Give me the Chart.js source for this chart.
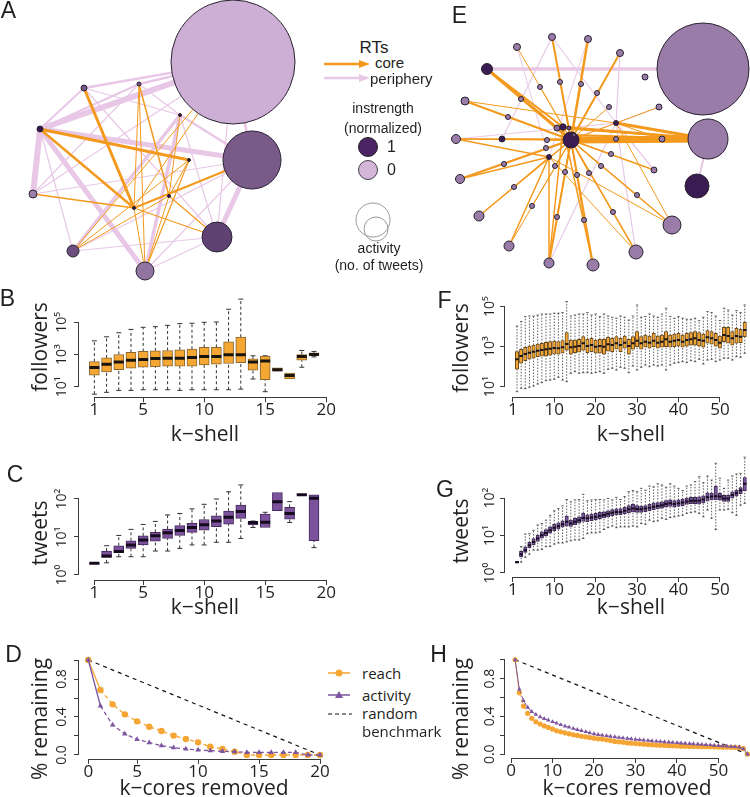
<!DOCTYPE html>
<html><head><meta charset="utf-8">
<script src="https://cdn.jsdelivr.net/npm/chart.js@4.4.1/dist/chart.umd.min.js"></script>
<style>
html,body{margin:0;padding:0;background:#fff;}
body{position:relative;width:750px;height:797px;overflow:hidden;}
canvas{position:absolute;}
.t{position:absolute;white-space:nowrap;line-height:1;color:#231f20;}
svg{position:absolute;left:0;top:0;}
</style></head><body>
<svg width="750" height="797">
  <line x1="324" y1="64" x2="361" y2="64" stroke="#f39a1e" stroke-width="2.5"/>
  <polygon points="359,60 370,64 359,68" fill="#f39a1e"/>
  <line x1="324" y1="78" x2="361" y2="78" stroke="#e8c8e6" stroke-width="2.5"/>
  <polygon points="359,74 370,78 359,82" fill="#e8c8e6"/>
  <circle cx="368" cy="147" r="9.5" fill="#4a2464" stroke="#222" stroke-width="1"/>
  <circle cx="368" cy="170" r="9.5" fill="#d4b6da" stroke="#444" stroke-width="1"/>
  <circle cx="373" cy="220" r="17" fill="none" stroke="#9a9a9a" stroke-width="1"/>
  <circle cx="376" cy="229" r="12" fill="none" stroke="#9a9a9a" stroke-width="1"/>
  <line x1="328" y1="673" x2="350" y2="673" stroke="#f5a533" stroke-width="1.5"/>
  <circle cx="339" cy="673" r="3.5" fill="#f5a533"/>
  <line x1="328" y1="695" x2="350" y2="695" stroke="#7d55a0" stroke-width="1.5"/>
  <polygon points="339,691 343,698 335,698" fill="#7d55a0"/>
  <line x1="328" y1="714" x2="352" y2="714" stroke="#111" stroke-width="1.2" stroke-dasharray="4,3"/>
</svg>
<canvas id="cA"></canvas><canvas id="cE"></canvas>
<canvas id="cB"></canvas><canvas id="cC"></canvas><canvas id="cD"></canvas>
<canvas id="cF"></canvas><canvas id="cG"></canvas><canvas id="cH"></canvas>
<script>
// ================= DATA =================
// Panel B / C : k-shells 1..19 (log10 of values)
const kShellLeft = [1,2,3,4,5,6,7,8,9,10,11,12,13,14,15,16,17,18,19];
const bFollowersLo  = [0.54,0.65,0.77,0.77,0.81,0.81,0.81,0.77,0.81,0.81,0.81,0.81,0.85,1.48,0.69,1.96,1.48,2.21,2.85];
const bFollowersQ1  = [1.71,1.92,2.06,2.15,2.21,2.25,2.27,2.27,2.27,2.35,2.40,2.44,2.50,2.02,1.44,1.96,1.48,2.65,2.92];
const bFollowersMed = [2.19,2.40,2.54,2.65,2.69,2.75,2.77,2.77,2.81,2.88,2.88,2.98,2.98,2.54,2.60,2.06,1.69,2.88,3.00];
const bFollowersQ3  = [2.56,2.79,3.00,3.13,3.19,3.23,3.25,3.29,3.33,3.44,3.44,3.79,4.08,2.73,2.90,2.17,1.85,3.00,3.10];
const bFollowersHi  = [3.85,4.10,4.35,4.56,4.69,4.73,4.81,4.92,4.94,5.00,5.02,5.81,6.44,2.92,2.92,2.17,1.85,3.25,3.19];

const cTweetsLo  = [0.29,0.32,0.48,0.48,0.48,0.63,0.63,0.70,0.79,0.79,0.86,0.86,0.96,1.25,1.25,1.69,1.38,2.10,0.72];
const cTweetsQ1  = [0.29,0.46,0.59,0.70,0.79,0.89,0.96,1.04,1.12,1.18,1.27,1.34,1.49,1.32,1.25,1.69,1.47,2.10,0.90];
const cTweetsMed = [0.31,0.50,0.62,0.79,0.92,1.03,1.11,1.17,1.25,1.32,1.42,1.52,1.67,1.38,1.39,1.93,1.62,2.11,2.02];
const cTweetsQ3  = [0.32,0.63,0.77,0.90,1.03,1.12,1.21,1.30,1.36,1.46,1.56,1.68,1.84,1.40,1.60,2.17,1.78,2.12,2.11];
const cTweetsHi  = [0.32,0.77,1.04,1.20,1.33,1.41,1.58,1.62,1.74,1.86,2.00,2.19,2.37,1.42,1.65,2.17,1.93,2.12,2.11];

// Panel F / G : k-shells 1..56 (log10 of values)
const kShellRight = [1,2,3,4,5,6,7,8,9,10,11,12,13,14,15,16,17,18,19,20,21,22,23,24,25,26,27,28,29,30,31,32,33,34,35,36,37,38,39,40,41,42,43,44,45,46,47,48,49,50,51,52,53,54,55,56];
const fFollowersLo  = [0.75,0.92,0.90,0.97,1.03,1.13,1.20,1.30,1.33,1.37, 1.47,1.33,1.25,1.67,1.75,1.67,1.70,1.70,1.67,1.70, 1.75,1.67,1.87,1.92,1.83,1.97,1.92,1.70,2.03,1.83, 1.97,2.08,2.00,2.08,2.03,2.08,1.83,2.08,2.17,2.20, 2.25,2.20,2.30,2.25,2.37,2.13,2.33,2.37,2.25,2.33, 2.42,2.42,2.33,2.50,2.47,2.67];
const fFollowersQ1  = [1.88,2.17,2.30,2.37,2.42,2.50,2.53,2.53,2.58,2.62, 2.62,2.67,2.83,2.63,2.70,2.72,2.83,2.70,2.75,2.67, 2.67,2.63,2.78,2.75,2.87,2.75,2.92,2.63,2.87,3.00, 2.87,2.97,2.92,3.00,2.92,2.97,3.00,2.97,3.00,3.03, 2.97,3.03,3.08,3.08,3.03,2.97,3.17,3.13,3.03,2.92, 3.25,3.17,3.08,3.17,3.20,3.50];
const fFollowersMed = [2.37,2.53,2.63,2.70,2.75,2.80,2.83,2.87,2.90,2.93, 2.92,2.97,3.13,2.97,3.00,3.03,3.17,3.03,3.08,3.00, 3.03,3.00,3.12,3.08,3.17,3.08,3.20,3.03,3.17,3.30, 3.17,3.25,3.20,3.30,3.20,3.25,3.37,3.25,3.30,3.33, 3.25,3.33,3.37,3.42,3.33,3.30,3.47,3.42,3.33,3.20, 3.58,3.53,3.42,3.53,3.50,3.83];
const fFollowersQ3  = [2.75,2.87,2.97,3.03,3.08,3.13,3.17,3.22,3.25,3.28, 3.25,3.30,3.70,3.33,3.33,3.37,3.50,3.37,3.42,3.33, 3.37,3.37,3.47,3.42,3.50,3.42,3.53,3.37,3.50,3.75, 3.50,3.58,3.53,3.67,3.53,3.58,3.75,3.58,3.63,3.67, 3.58,3.67,3.70,3.75,3.70,3.63,3.80,3.75,3.67,3.53, 3.97,3.97,3.75,3.92,3.87,4.22];
const fFollowersHi  = [4.03,4.25,4.50,4.53,4.53,4.58,4.63,4.63,4.63,4.67, 4.67,4.70,5.25,4.53,4.58,4.63,4.63,4.70,4.58,4.63, 4.50,4.63,4.53,4.47,4.42,4.53,4.47,4.33,4.53,5.08, 4.47,4.50,4.63,4.53,4.47,4.63,4.92,4.50,4.42,4.50, 4.42,4.37,4.37,4.42,4.30,4.47,4.75,4.70,4.53,4.30, 4.92,4.83,4.58,4.80,4.70,5.08];

const gTweetsLo  = [0.27,0.29,0.42,0.50,0.61,0.61,0.63,0.70,0.71,0.77, 0.80,0.80,0.83,0.86,0.88,0.88,0.92,1.05,1.07,1.07, 1.09,1.16,1.21,1.25,1.21,1.23,1.23,1.23,1.25,1.23, 1.32,1.30,1.41,1.37,1.39,1.46,1.43,1.48,1.50,1.52, 1.54,1.59,1.61,1.63,1.59,1.50,1.68,1.46,1.16,1.68, 1.68,1.70,1.61,1.54,1.81,1.86];
const gTweetsQ1  = [0.27,0.43,0.55,0.67,0.75,0.84,0.93,0.99,1.06,1.13, 1.17,1.22,1.25,1.24,1.29,1.33,1.38,1.37,1.40,1.42, 1.45,1.47,1.50,1.53,1.55,1.55,1.58,1.61,1.63,1.62, 1.62,1.64,1.66,1.69,1.71,1.73,1.76,1.78,1.76,1.78, 1.80,1.83,1.85,1.85,1.84,1.87,1.92,1.95,1.95,1.95, 1.91,1.91,2.00,2.05,2.12,2.20];
const gTweetsMed = [0.29,0.50,0.61,0.74,0.83,0.92,1.01,1.07,1.14,1.21, 1.25,1.30,1.37,1.32,1.37,1.41,1.47,1.46,1.48,1.50, 1.53,1.55,1.58,1.61,1.63,1.63,1.66,1.70,1.72,1.71, 1.70,1.72,1.74,1.77,1.79,1.81,1.84,1.86,1.84,1.86, 1.88,1.91,1.93,1.93,1.93,1.96,2.02,2.04,2.05,2.04, 1.99,1.99,2.08,2.13,2.20,2.38];
const gTweetsQ3  = [0.31,0.58,0.70,0.82,0.92,1.01,1.10,1.16,1.23,1.30, 1.34,1.39,1.52,1.41,1.46,1.50,1.60,1.55,1.57,1.59, 1.62,1.63,1.66,1.69,1.71,1.72,1.75,1.80,1.83,1.80, 1.78,1.80,1.83,1.87,1.88,1.90,1.93,1.95,1.93,1.95, 1.97,2.00,2.02,2.02,2.03,2.06,2.14,2.13,2.32,2.13, 2.07,2.08,2.17,2.21,2.28,2.55];
const gTweetsHi  = [0.31,0.71,1.04,1.05,1.14,1.28,1.32,1.41,1.54,1.66, 1.72,1.79,1.96,1.90,1.95,1.96,2.10,1.93,1.95,1.96, 1.96,1.95,1.99,1.95,2.02,1.96,2.04,2.17,2.20,2.17, 2.26,2.21,2.32,2.30,2.38,2.35,2.29,2.38,2.32,2.26, 2.20,2.32,2.35,2.44,2.57,2.41,2.59,2.48,2.93,2.53, 2.26,2.48,2.59,2.64,2.66,3.09];

// Panel D : cores removed (plotted at 1..20, first tick labelled 0)
const dCoresRemoved = [1,2,3,4,5,6,7,8,9,10,11,12,13,14,15,16,17,18,19,20];
const dReach    = [1.0,0.684,0.533,0.428,0.354,0.298,0.253,0.204,0.168,0.133,0.088,0.063,0.035,0.0,0.0,0.0,0.0,0.0,0.0,0.0];
const dActivity = [1.0,0.516,0.316,0.221,0.165,0.130,0.098,0.077,0.063,0.053,0.046,0.039,0.035,0.028,0.028,0.028,0.028,0.028,0.0,0.0];
const dBenchmarkX = [1,20], dBenchmarkY = [1.0,0.0];

// Panel H : cores removed 1..57
const hCoresRemoved = [1,2,3,4,5,6,7,8,9,10,11,12,13,14,15,16,17,18,19,20,21,22,23,24,25,26,27,28,29,30,31,32,33,34,35,36,37,38,39,40,41,42,43,44,45,46,47,48,49,50,51,52,53,54,55,56,57];
const hReach    = [1.0,0.652,0.510,0.433,0.380,0.344,0.320,0.300,0.284,0.266, 0.248,0.238,0.227,0.216,0.206,0.199,0.190,0.184,0.177,0.170, 0.163,0.160,0.152,0.145,0.135,0.131,0.128,0.120,0.117,0.113, 0.110,0.106,0.103,0.100,0.097,0.095,0.093,0.091,0.089,0.087, 0.085,0.084,0.083,0.082,0.081,0.080,0.079,0.078,0.077,0.076, 0.075,0.074,0.073,0.072,0.070,0.060,0.0];
const hActivity = [1.0,0.688,0.567,0.496,0.450,0.420,0.395,0.376,0.360,0.344, 0.328,0.312,0.298,0.285,0.272,0.260,0.249,0.238,0.226,0.215, 0.208,0.201,0.195,0.189,0.183,0.177,0.172,0.167,0.162,0.157, 0.153,0.149,0.145,0.141,0.137,0.134,0.131,0.128,0.124,0.121, 0.118,0.115,0.112,0.109,0.106,0.103,0.100,0.097,0.094,0.091, 0.088,0.085,0.082,0.079,0.075,0.055,0.0];
const hBenchmarkX = [1,57], hBenchmarkY = [1.0,0.0];

// Tick values
const leftKTicks = [1,5,10,15,20];
const rightKTicks = [0,10,20,30,40,50];
const followersTicks = [10,1000,100000];
const tweetsTicks = [1,10,100];
const remainingTicks = [0,0.2,0.4,0.6,0.8,1.0];

// Network A (layout coords inside panel, activity = node radius, instrength 0..1)
const aLayoutX = [233,252,217,145,73,33,40,84,139,180,189,169,134];
const aLayoutY = [62,160,237,271,251,194,129,88,84,115,160,196,208];
const aActivity = [62,29,15,9,6,4,3,3,2,1.5,1.5,1.5,1.5];
const aInstrength = [0.05,0.55,0.70,0.40,0.62,0.33,0.95,0.58,0.58,1,1,1,1];
const aCoreEdges = [[7,12,3],[6,10,3],[6,12,2.5],[8,11,1.5],[8,12,1],[5,12,1.5],[12,2,1.2],[12,1,2],[11,2,1.2],[10,3,1.2],[10,4,1],[0,4,1],[12,3,1],[11,4,1],[9,11,1],[10,11,1],[11,3,1],[0,12,1],[8,3,1]];
const aPeripheryEdges = [[6,0,6],[6,1,5],[6,5,6],[6,3,5],[7,0,2.5],[8,0,2.5],[9,3,3.5],[9,4,3.5],[1,2,5],[0,1,2.5],[6,7,2],[6,8,2],[3,2,1.2],[5,8,1.2],[4,6,1.2],[5,1,1.2],[7,2,1.2],[3,1,1.2],[4,2,1.2],[7,9,1.2],[8,9,1.2],[9,1,2.5],[0,2,1.2],[5,0,1.2],[4,1,1.2],[9,2,1.2]];

// Network E
const eLayoutX = [273,278,267,141,57,122,158,190,87,35,26,30,49,79,119,163,206,242,229,215,224,232,186,72,119,133,110,130,151,167,179,91,78,127,117,116,74,125,135,147,159,171,181,186,207,183,154,127,102,84,139,144];
const eLayoutY = [69,139,186,140,69,37,39,53,47,101,139,179,216,246,263,265,252,225,107,77,170,139,123,139,157,127,87,82,84,93,107,99,117,128,140,148,164,166,172,175,173,166,154,139,195,212,220,217,206,187,128,135];
const eActivity = [46,20,12,8,5.5,3.5,3.5,3.5,3.5,4,4.5,4.5,5,5,5,6,7,9,3,3,3,3,2.5,3,2.5,3.2,2.5,2.5,2.5,2.5,2.5,2.5,2.5,3,2.5,2.5,2.5,2.5,2.5,2.5,2.5,2.5,2.5,2.5,2.5,2.5,2.5,2.5,2.5,2.5,2,2];
const eInstrength = [0.35,0.35,0.92,0.92,0.92,0.35,0.35,0.35,0.35,0.35,0.35,0.35,0.35,0.35,0.35,0.35,0.35,0.35,0.35,0.35,0.35,0.35,0.92,0.92,0.92,0.92,0.35,0.35,0.35,0.35,0.35,0.35,0.35,0.45,0.35,0.35,0.35,0.35,0.35,0.35,0.35,0.35,0.35,0.35,0.35,0.35,0.35,0.35,0.35,0.35,0.6,0.6];
const eCoreEdges = [[3,5,2],[3,6,2.5],[3,7,2],[3,8,1],[3,9,2],[3,10,1.5],[3,11,2],[3,12,1.5],[3,13,1],[3,14,2],[3,15,2],[3,16,1.5],[3,17,1.5],[3,18,1],[3,20,1.5],[3,21,1.5],[3,4,3],[3,23,1],[3,1,7],[25,1,2.5],[50,1,2],[51,1,2],[22,1,3],[33,1,1.5],[43,1,1.5],
  [3,26,1],[3,27,1],[3,28,1],[3,29,1],[3,30,1],[3,31,1],[3,32,1],[3,34,1],[3,35,1],[3,36,1],[3,37,1],[3,38,1],[3,39,1],[3,40,1],[3,41,1],[3,42,1],[3,44,1],[3,45,1],[3,46,1],[3,47,1],[3,48,1],[3,49,1],
  [24,10,1.5],[24,11,1.5],[24,13,1.5],[24,14,1.5],[24,12,1],[23,1,1],[10,1,1],[16,24,1],[17,24,1],[9,22,1],[22,17,1],[22,21,1],[25,15,1.5],[25,14,1.5],[4,25,2],[3,33,1]];
const ePeripheryEdges = [[4,0,3.5],[22,7,1.2],[22,5,1.2],[22,11,1.2],[22,14,1.2],[22,20,1.2],[1,2,2],[5,23,1.2],[22,16,1.2],[22,10,1.2],[18,22,1.2],[8,35,1],[6,24,1]];

// ================= HELPERS =================
Chart.defaults.font.family = "'Open Sans', sans-serif";
Chart.defaults.color = '#231f20';
const CORE = '#f39a1e', PERIPH = '#e8c8e6';
const SUP = {'-1':'⁻¹','0':'⁰','1':'¹','2':'²','3':'³','4':'⁴','5':'⁵','6':'⁶'};
const pow10 = v => Math.pow(10, v);

function geom(id, box, area) {
  const c = document.getElementById(id);
  c.width = box[2]; c.height = box[3];
  c.style.left = box[0] + 'px'; c.style.top = box[1] + 'px';
  return { yW: area[0] - box[0], xH: box[1] + box[3] - area[3],
    pad: { top: area[1] - box[1], right: box[0] + box[2] - area[2], left: 0, bottom: 0 } };
}

const rAxisLines = {
  id: 'rAxisLines',
  afterDraw(chart) {
    const ctx = chart.ctx; ctx.save(); ctx.strokeStyle = '#3a3a3a'; ctx.lineWidth = 1;
    ['x', 'y'].forEach(id => {
      const s = chart.scales[id]; const t = s.ticks; if (!t.length) return;
      const a = s.getPixelForValue(t[0].value), b = s.getPixelForValue(t[t.length - 1].value);
      ctx.beginPath();
      if (id === 'x') { const y = Math.round(s.top) + 0.5; ctx.moveTo(a, y); ctx.lineTo(b, y); }
      else { const x = Math.round(s.right) - 0.5; ctx.moveTo(x, a); ctx.lineTo(x, b); }
      ctx.stroke();
    });
    ctx.restore();
  }
};

function xAxis(g, min, max, ticks, fmt, pad) {
  return { type: 'linear', position: 'bottom', min, max, bounds: 'data', offset: false,
    afterBuildTicks: s => { s.ticks = ticks.map(v => ({ value: v })); },
    afterFit: s => { s.height = g.xH; s.paddingLeft = 0; s.paddingRight = 0; },
    grid: { offset: false, drawOnChartArea: false, drawTicks: true, tickLength: 5, color: '#3a3a3a', lineWidth: 1 },
    border: { display: false },
    ticks: { autoSkip: false, minRotation: 0, maxRotation: 0, padding: pad, color: '#231f20', font: { size: 17 }, callback: fmt } };
}
function yAxis(g, type, min, max, ticks, fmt, pad) {
  return { type, position: 'left', min, max, bounds: 'data', beginAtZero: false,
    afterBuildTicks: s => { s.ticks = ticks.map(v => ({ value: v })); },
    afterFit: s => { s.width = g.yW; s.paddingTop = 0; s.paddingBottom = 0; },
    grid: { drawOnChartArea: false, drawTicks: true, tickLength: 5, color: '#3a3a3a', lineWidth: 1 },
    border: { display: false },
    ticks: { autoSkip: false, minRotation: 90, maxRotation: 90, crossAlign: 'center', padding: pad, color: '#231f20', font: { size: 14 }, callback: fmt } };
}
const logFmt = v => '10' + SUP[String(Math.round(Math.log10(v)))];

function boxplotDatasets(ks, lo, q1, med, q3, hi, st) {
  const whisk = [], caps = [];
  ks.forEach((k, i) => {
    if (hi[i] > q3[i] + 0.005) { whisk.push({ x: k, y: pow10(q3[i]) }, { x: k, y: pow10(hi[i]) }, { x: k, y: null }); caps.push({ x: k, y: pow10(hi[i]) }); }
    if (lo[i] < q1[i] - 0.005) { whisk.push({ x: k, y: pow10(lo[i]) }, { x: k, y: pow10(q1[i]) }, { x: k, y: null }); caps.push({ x: k, y: pow10(lo[i]) }); }
  });
  return [
    { type: 'line', data: whisk, borderColor: st.whisk, borderWidth: st.ww, borderDash: st.dash, pointRadius: 0, spanGaps: false, order: 3 },
    { type: 'scatter', data: caps, pointStyle: 'line', pointRadius: st.cap, pointBorderWidth: st.ww, pointBorderColor: st.whisk, order: 2 },
    { type: 'bar', data: ks.map((k, i) => ({ x: k, y: [pow10(q1[i]), pow10(q3[i])] })), backgroundColor: st.fill, borderColor: st.stroke, borderWidth: st.bw, borderSkipped: false, barThickness: st.width, order: 1 },
    { type: 'scatter', data: ks.map((k, i) => ({ x: k, y: pow10(med[i]) })), pointStyle: 'line', pointRadius: st.width / 2, pointBorderWidth: st.mw, pointBorderColor: st.med, order: 0 }
  ];
}
const baseOpts = g => ({ responsive: false, animation: false, devicePixelRatio: 1, events: [],
  layout: { padding: g.pad, autoPadding: false }, plugins: { legend: { display: false }, tooltip: { enabled: false } } });

function boxChart(id, box, area, xr, yr, ks, arrays, st, xTicks, xFmt, yTicks, yPad) {
  const g = geom(id, box, area);
  return new Chart(document.getElementById(id), {
    type: 'bar',
    data: { datasets: boxplotDatasets(ks, ...arrays, st) },
    options: Object.assign(baseOpts(g), { scales: {
      x: xAxis(g, xr[0], xr[1], xTicks, xFmt, -2),
      y: yAxis(g, 'logarithmic', pow10(yr[0]), pow10(yr[1]), yTicks, logFmt, yPad) } }),
    plugins: [rAxisLines]
  });
}

const orangeBox = { fill: '#f5a733', stroke: '#8a6630', bw: 1, whisk: '#333', ww: 1, dash: [3, 2.5], med: '#1a1410', mw: 3 };
const purpleBox = { fill: '#7c529d', stroke: '#45295c', bw: 1, whisk: '#333', ww: 1, dash: [3, 2.5], med: '#150a1e', mw: 3 };

// B
boxChart('cB', [0, 285, 345, 165], [79, 296.6, 326.2, 397.3], [-0.26, 20], [0.342, 6.596], kShellLeft,
  [bFollowersLo, bFollowersQ1, bFollowersMed, bFollowersQ3, bFollowersHi],
  Object.assign({}, orangeBox, { width: 10, cap: 2.5 }), leftKTicks, v => String(v), followersTicks, 2);
// C
boxChart('cC', [0, 470, 345, 135], [79, 482, 326.2, 580], [-0.26, 20], [-0.132, 2.447], kShellLeft,
  [cTweetsLo, cTweetsQ1, cTweetsMed, cTweetsQ3, cTweetsHi],
  Object.assign({}, purpleBox, { width: 10, cap: 2.5 }), leftKTicks, v => String(v), tweetsTicks, 2);
// F
boxChart('cF', [430, 285, 320, 165], [505, 298, 749.7, 397.3], [-1.9, 57.2], [0.47, 5.43], kShellRight,
  [fFollowersLo, fFollowersQ1, fFollowersMed, fFollowersQ3, fFollowersHi],
  Object.assign({}, orangeBox, { width: 3.4, cap: 1.2, ww: 0.8, dash: [1.5, 1.5], mw: 2, stroke: '#6b4a18' }), rightKTicks, v => v === 0 ? '1' : String(v), followersTicks, 0);
// G
boxChart('cG', [430, 445, 320, 160], [505, 455, 749.7, 577], [-1.9, 57.2], [-0.107, 3.15], kShellRight,
  [gTweetsLo, gTweetsQ1, gTweetsMed, gTweetsQ3, gTweetsHi],
  Object.assign({}, purpleBox, { width: 3.4, cap: 1.2, ww: 0.8, dash: [1.5, 1.5], mw: 2, fill: '#7b55a0', stroke: '#3d2a50' }), rightKTicks, v => v === 0 ? '1' : String(v), tweetsTicks, 0);

// D and H line charts
function remainChart(id, box, area, xr, xs, reach, act, bx, by, xTicks, xFmt, pr, yPad, lw) {
  const g = geom(id, box, area);
  const dash = ctx => ctx.p0DataIndex === 0 ? [] : [4, 3];
  return new Chart(document.getElementById(id), {
    type: 'line',
    data: { datasets: [
      { data: xs.map((x, i) => ({ x, y: act[i] })), borderColor: '#7d55a0', backgroundColor: '#7d55a0', borderWidth: lw, pointStyle: 'triangle', pointRadius: pr, pointBorderWidth: 0, segment: { borderDash: dash }, order: 0 },
      { data: xs.map((x, i) => ({ x, y: reach[i] })), borderColor: '#f5a533', backgroundColor: '#f5a533', borderWidth: lw, pointStyle: 'circle', pointRadius: pr, pointBorderWidth: 0, segment: { borderDash: dash }, order: 1 },
      { data: bx.map((x, i) => ({ x, y: by[i] })), borderColor: '#111', borderWidth: 1.2, borderDash: [4, 4], pointRadius: 0, order: 2 }
    ] },
    options: Object.assign(baseOpts(g), { scales: {
      x: xAxis(g, xr[0], xr[1], xTicks, xFmt, -2),
      y: yAxis(g, 'linear', -0.04, 1.04, remainingTicks, v => ([0, 0.4, 0.8].some(t => Math.abs(t - v) < 1e-6) ? v.toFixed(1) : ''), yPad) } }),
    plugins: [rAxisLines]
  });
}
remainChart('cD', [0, 645, 345, 140], [79, 656.2, 329.3, 758.8], [0.24, 20.76], dCoresRemoved, dReach, dActivity, dBenchmarkX, dBenchmarkY, [1, 5, 10, 15, 20], v => v === 1 ? '0' : String(v), 3.2, 2, 1.3);
remainChart('cH', [430, 645, 320, 140], [505, 656, 750, 758], [-1.45, 57.6], hCoresRemoved, hReach, hActivity, hBenchmarkX, hBenchmarkY, [0, 10, 20, 30, 40, 50], v => String(v), 2.6, 0, 1);

// Networks
function mixColor(t) {
  const a = [213, 183, 221], b = [45, 15, 70];
  const c = a.map((v, i) => Math.round(v + (b[i] - v) * t));
  return 'rgb(' + c.join(',') + ')';
}
function networkChart(id, box, X, Y, R, S, core, peri) {
  const c = document.getElementById(id);
  c.width = box[2]; c.height = box[3]; c.style.left = box[0] + 'px'; c.style.top = box[1] + 'px';
  const edgeDs = (e, color, order) => ({ type: 'line', data: [{ x: X[e[0]], y: Y[e[0]] }, { x: X[e[1]], y: Y[e[1]] }], borderColor: color, borderWidth: e[2], pointRadius: 0, order, clip: false });
  const ds = [{ type: 'bubble', data: X.map((x, i) => ({ x, y: Y[i], r: R[i] })), backgroundColor: S.map(mixColor), borderColor: '#2a2230', borderWidth: 1, order: 0, clip: false }];
  core.forEach(e => ds.push(edgeDs(e, CORE, 1)));
  peri.forEach(e => ds.push(edgeDs(e, PERIPH, 2)));
  return new Chart(c, { type: 'scatter', data: { datasets: ds },
    options: { responsive: false, animation: false, devicePixelRatio: 1, events: [], layout: { padding: 0, autoPadding: false },
      plugins: { legend: { display: false }, tooltip: { enabled: false } },
      scales: { x: { type: 'linear', display: false, min: 0, max: box[2], bounds: 'data' }, y: { type: 'linear', display: false, min: 0, max: box[3], reverse: true, bounds: 'data' } } } });
}
networkChart('cA', [0, 0, 330, 290], aLayoutX, aLayoutY, aActivity, aInstrength, aCoreEdges, aPeripheryEdges);
networkChart('cE', [430, 0, 320, 290], eLayoutX, eLayoutY, eActivity, eInstrength, eCoreEdges, ePeripheryEdges);

// ================= TEXT =================
function T(txt, x, y, size, opts = {}) {
  const d = document.createElement('div');
  d.className = 't'; d.textContent = txt;
  d.style.left = x + 'px'; d.style.top = y + 'px'; d.style.fontSize = size + 'px';
  d.style.fontFamily = opts.family || "'Open Sans', sans-serif";
  const ax = opts.left ? '0' : '-50%';
  d.style.transform = 'translate(' + ax + ',-50%)' + (opts.rot ? ' rotate(-90deg)' : '');
  if (opts.rot) d.style.transformOrigin = '50% 50%';
  document.body.appendChild(d);
}
const LS = "'Liberation Sans', Arial, sans-serif";
[['A', 8.5, 10], ['B', 7.5, 297.5], ['C', 15, 473.5], ['D', 13.5, 653.5], ['E', 459.5, 15], ['F', 444.5, 299.5], ['G', 445, 488.5], ['H', 438.5, 653.5]]
  .forEach(p => T(p[0], p[1], p[2], 23, { family: LS }));
// legend A/E
T('RTs', 374, 47, 17, { family: LS });
T('core', 375, 62, 15, { family: LS, left: true });
T('periphery', 370, 78, 15, { family: LS, left: true });
T('instrength', 383, 108, 14, { family: LS });
T('(normalized)', 383, 128, 14, { family: LS });
T('1', 387, 147, 16, { family: LS, left: true });
T('0', 387, 170, 16, { family: LS, left: true });
T('activity', 379, 248, 14, { family: LS });
T('(no. of tweets)', 379, 265, 14, { family: LS });
// legend D
T('reach', 362, 673, 15, { left: true });
T('activity', 362, 695, 15, { left: true });
T('random', 362, 713, 15, { left: true });
T('benchmark', 362, 731, 15, { left: true });
// axis titles
T('followers', 39, 347, 21, { rot: true });
T('k−shell', 205, 433, 21);
T('tweets', 39, 533, 21, { rot: true });
T('k−shell', 205, 606, 21);
T('% remaining', 39, 719, 21, { rot: true });
T('k−cores removed', 204, 787, 21);
T('followers', 460, 348, 21, { rot: true });
T('k−shell', 631, 433, 21);
T('tweets', 460, 531, 21, { rot: true });
T('k−shell', 631, 606, 21);
T('% remaining', 460, 719, 21, { rot: true });
T('k−cores removed', 627, 787, 21);
</script>
</body></html>
